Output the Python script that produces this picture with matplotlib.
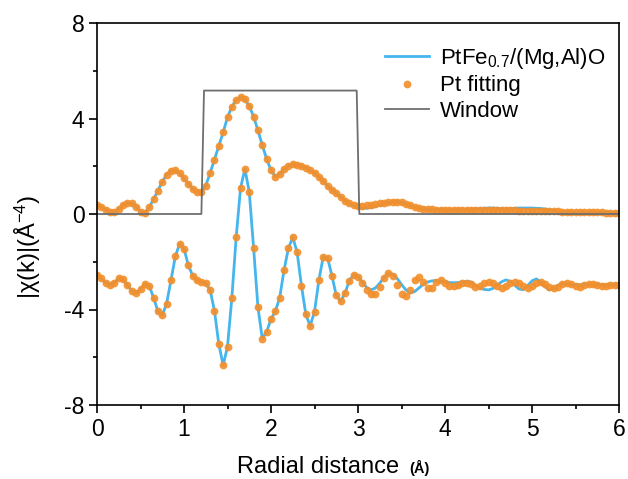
import numpy as np
import matplotlib
matplotlib.use("Agg")
import matplotlib.pyplot as plt
from matplotlib.ticker import MultipleLocator

plt.rcParams['font.family'] = ['Liberation Sans', 'DejaVu Sans']
plt.rcParams['mathtext.default'] = 'regular'
plt.rcParams['axes.unicode_minus'] = False

# --- data (R grid: 0 .. 6 step 0.05) ---
r = np.linspace(0, 6, 121)

# |chi(R)| magnitude
mag_data = [
    0.38, 0.30, 0.18, 0.09, 0.08, 0.20, 0.38, 0.47, 0.44, 0.30,
    0.10, 0.05, 0.28, 0.62, 0.98, 1.35, 1.65, 1.82, 1.83, 1.70,
    1.50, 1.27, 1.06, 0.93, 0.92, 1.18, 1.72, 2.28, 2.85, 3.42,
    4.05, 4.50, 4.78, 4.90, 4.80, 4.52, 4.08, 3.50, 2.88, 2.30,
    1.83, 1.57, 1.68, 1.88, 2.02, 2.08, 2.07, 2.01, 1.93, 1.83,
    1.72, 1.56, 1.37, 1.17, 1.00, 0.86, 0.72, 0.56, 0.44, 0.36,
    0.27, 0.24, 0.24, 0.27, 0.31, 0.37, 0.43, 0.48, 0.51, 0.52,
    0.49, 0.43, 0.36, 0.29, 0.24, 0.21, 0.20, 0.19, 0.18, 0.18,
    0.17, 0.17, 0.17, 0.17, 0.17, 0.18, 0.19, 0.21, 0.23, 0.24,
    0.25, 0.25, 0.24, 0.23, 0.22, 0.23, 0.24, 0.25, 0.25, 0.25,
    0.25, 0.24, 0.23, 0.21, 0.18, 0.15, 0.12, 0.10, 0.10, 0.09,
    0.09, 0.08, 0.08, 0.08, 0.07, 0.07, 0.07, 0.06, 0.06, 0.06,
    0.06,
]
mag_fit = [
    0.38, 0.30, 0.18, 0.09, 0.08, 0.20, 0.38, 0.47, 0.44, 0.30,
    0.10, 0.05, 0.28, 0.62, 0.98, 1.35, 1.65, 1.82, 1.83, 1.70,
    1.50, 1.27, 1.06, 0.93, 0.92, 1.18, 1.72, 2.28, 2.85, 3.42,
    4.05, 4.50, 4.78, 4.90, 4.80, 4.52, 4.08, 3.50, 2.88, 2.30,
    1.83, 1.57, 1.68, 1.88, 2.02, 2.08, 2.07, 2.01, 1.93, 1.83,
    1.72, 1.56, 1.37, 1.17, 1.00, 0.86, 0.72, 0.56, 0.44, 0.38,
    0.35, 0.35, 0.37, 0.39, 0.42, 0.45, 0.48, 0.51, 0.52, 0.52,
    0.49, 0.43, 0.36, 0.29, 0.24, 0.21, 0.20, 0.19, 0.18, 0.18,
    0.17, 0.17, 0.17, 0.17, 0.17, 0.17, 0.16, 0.16, 0.16, 0.16,
    0.16, 0.15, 0.15, 0.15, 0.15, 0.15, 0.15, 0.14, 0.14, 0.14,
    0.14, 0.14, 0.14, 0.13, 0.13, 0.12, 0.11, 0.10, 0.10, 0.09,
    0.09, 0.08, 0.08, 0.08, 0.07, 0.07, 0.07, 0.06, 0.06, 0.06,
    0.06,
]

# real part, shifted down by 3
re_data = [
    -2.56, -2.70, -2.88, -2.97, -2.87, -2.70, -2.74, -2.98, -3.22, -3.31,
    -3.15, -2.93, -3.00, -3.51, -4.07, -4.24, -3.75, -2.78, -1.78, -1.24,
    -1.45, -2.15, -2.58, -2.78, -2.85, -2.90, -3.18, -4.05, -5.45, -6.33,
    -5.56, -3.51, -0.96, 1.09, 1.88, 0.93, -1.42, -3.91, -5.22, -4.93,
    -4.40, -4.08, -3.50, -2.35, -1.44, -0.97, -1.60, -3.00, -4.20, -4.69,
    -4.09, -2.78, -1.79, -1.83, -2.58, -3.41, -3.66, -3.32, -2.80, -2.55,
    -2.62, -2.85, -3.08, -3.18, -3.10, -2.90, -2.65, -2.49, -2.52, -2.70,
    -2.95, -3.18, -3.31, -3.25, -3.10, -2.95, -2.85, -2.80, -2.79, -2.81,
    -2.84, -2.87, -2.88, -2.87, -2.85, -2.82, -2.85, -2.98, -3.10, -3.16,
    -3.18, -3.12, -2.98, -2.84, -2.76, -2.82, -2.98, -3.14, -3.17, -3.00,
    -2.80, -2.72, -2.85, -3.05, -3.18, -3.12, -2.98, -2.92, -2.93, -2.96,
    -2.97, -2.96, -2.95, -2.94, -2.95, -2.96, -2.96, -2.95, -2.95, -2.96,
    -2.97,
]
re_fit = [
    -2.56, -2.70, -2.88, -2.97, -2.87, -2.70, -2.74, -2.98, -3.22, -3.31,
    -3.15, -2.93, -3.00, -3.51, -4.07, -4.24, -3.75, -2.78, -1.78, -1.24,
    -1.45, -2.15, -2.58, -2.78, -2.85, -2.90, -3.18, -4.05, -5.45, -6.33,
    -5.56, -3.51, -0.96, 1.09, 1.88, 0.93, -1.42, -3.91, -5.22, -4.93,
    -4.40, -4.08, -3.50, -2.35, -1.44, -0.97, -1.60, -3.00, -4.20, -4.69,
    -4.09, -2.78, -1.79, -1.83, -2.58, -3.41, -3.66, -3.32, -2.80, -2.55,
    -2.65, -2.91, -3.20, -3.37, -3.34, -3.05, -2.69, -2.48, -2.59, -2.97,
    -3.35, -3.45, -3.17, -2.77, -2.64, -2.85, -3.08, -3.08, -2.86, -2.77,
    -2.88, -3.00, -3.03, -2.97, -2.89, -2.88, -2.95, -3.04, -3.00, -2.90,
    -2.84, -2.90, -3.02, -3.08, -3.00, -2.88, -2.84, -2.90, -3.02, -3.08,
    -3.00, -2.88, -2.84, -2.92, -3.06, -3.12, -3.05, -2.94, -2.90, -2.95,
    -3.02, -3.04, -2.99, -2.94, -2.92, -2.96, -3.00, -3.00, -2.98, -2.97,
    -2.99,
]

# fitting window
win_r = [0, 1.20, 1.23, 2.985, 3.015, 6]
win_v = [0, 0, 5.17, 5.17, 0, 0]

blue = '#45b5ee'
orange = '#f28f2c'
grey = '#6e6e6e'

fig = plt.figure(figsize=(6.28, 4.79), dpi=100)
ax = fig.add_axes([97 / 628, 74 / 479, 522 / 628, 382 / 479])

ax.plot(r, mag_data, color=blue, lw=2.0, label=r'PtFe$_{0.7}$/(Mg,Al)O')
ax.plot(r, re_data, color=blue, lw=2.0)
ax.plot(r, mag_fit, 'o', color=orange, ms=5.6, mew=0, alpha=0.92, label='Pt fitting')
ax.plot(r, re_fit, 'o', color=orange, ms=5.6, mew=0, alpha=0.92)
ax.plot(win_r, win_v, color=grey, lw=1.3, label='Window')

ax.set_xlim(0, 6)
ax.set_ylim(-8, 8)
ax.xaxis.set_major_locator(MultipleLocator(1))
ax.xaxis.set_minor_locator(MultipleLocator(0.5))
ax.yaxis.set_major_locator(MultipleLocator(4))
ax.yaxis.set_minor_locator(MultipleLocator(2))
ax.tick_params(which='both', direction='out', top=False, right=False,
               width=1.2, labelsize=16.5, pad=3)
ax.tick_params(which='major', length=6)
ax.tick_params(which='minor', length=3)
for s in ax.spines.values():
    s.set_linewidth(1.2)

leg = ax.legend(loc='upper right', frameon=False, fontsize=16,
                handlelength=2.0, handletextpad=0.5, labelspacing=0.2,
                borderaxespad=0.2, bbox_to_anchor=(1.0, 0.975))

fig.text(28 / 628, 1 - 247 / 479, r'|χ(k)|(Å$^{-4}$)', rotation=90,
         ha='center', va='center', fontsize=17)
fig.text(237 / 628, 12 / 479, 'Radial distance', ha='left', va='center',
         fontsize=17)
fig.text(409 / 628, 11 / 479, '(Å)', ha='left', va='center',
         fontsize=10.5, fontweight='bold')

fig.savefig('out.png', dpi=100)
